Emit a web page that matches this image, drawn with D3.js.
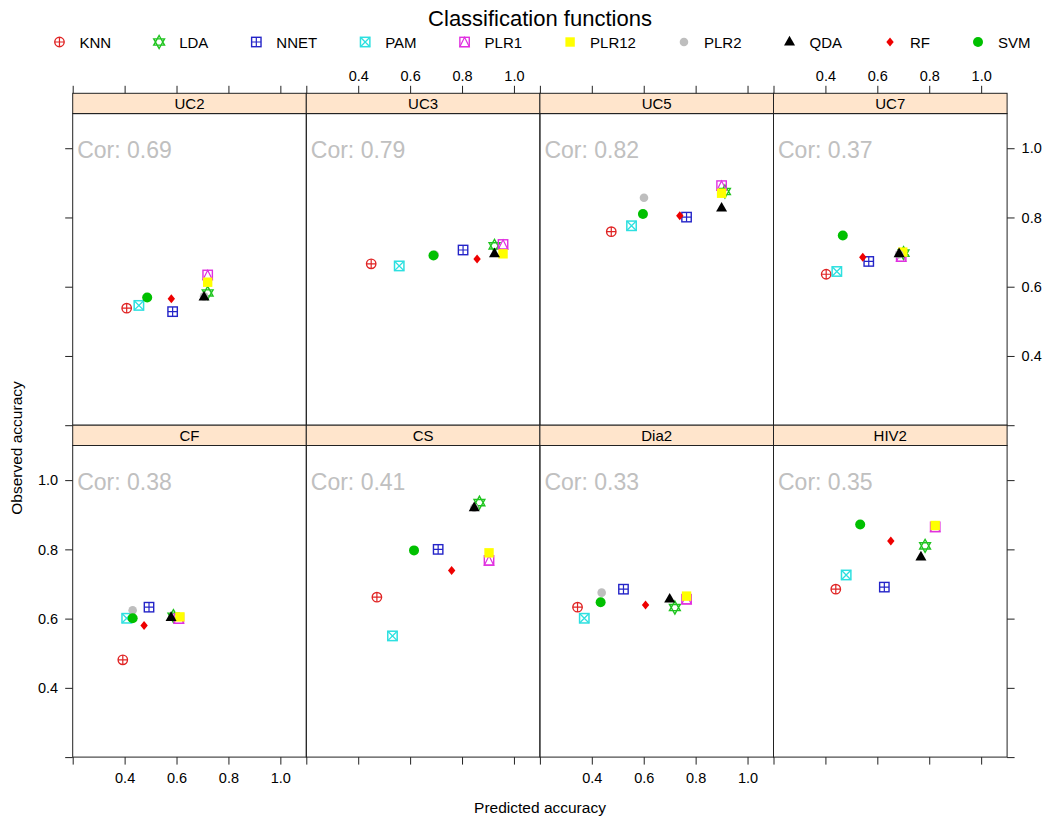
<!DOCTYPE html>
<html>
<head>
<meta charset="utf-8">
<script src="https://cdn.jsdelivr.net/npm/d3@7"></script>
<style>
body { margin: 0; background: #fff; }
svg text { font-family: "Liberation Sans", Arial, Helvetica, sans-serif; }
</style>
</head>
<body>
<svg id="chart"></svg>
<script>
// classification methods, in legend order
var methods = ["KNN", "LDA", "NNET", "PAM", "PLR1", "PLR12", "PLR2", "QDA", "RF", "SVM"];
var panels = ["UC2", "UC3", "UC5", "UC7", "CF", "CS", "Dia2", "HIV2"];
var cors = ["0.69", "0.79", "0.82", "0.37", "0.38", "0.41", "0.33", "0.35"];

// predicted / observed accuracy per data set, same order as methods
var uc2Pred  = [0.408, 0.720, 0.585, 0.455, 0.720, 0.720, 0.706, 0.706, 0.580, 0.487];
var uc2Obs   = [0.538, 0.582, 0.528, 0.546, 0.634, 0.613, 0.572, 0.570, 0.565, 0.569];
var uc3Pred  = [0.450, 0.925, 0.804, 0.558, 0.958, 0.958, 0.695, 0.925, 0.858, 0.690];
var uc3Obs   = [0.666, 0.718, 0.706, 0.660, 0.722, 0.695, 0.692, 0.695, 0.680, 0.690];
var uc5Pred  = [0.475, 0.913, 0.765, 0.553, 0.900, 0.900, 0.601, 0.900, 0.739, 0.597];
var uc5Obs   = [0.759, 0.875, 0.801, 0.776, 0.892, 0.870, 0.857, 0.827, 0.805, 0.810];
var uc7Pred  = [0.403, 0.701, 0.567, 0.444, 0.692, 0.698, 0.684, 0.684, 0.544, 0.467];
var uc7Obs   = [0.636, 0.697, 0.673, 0.644, 0.687, 0.700, 0.694, 0.695, 0.685, 0.748];
var cfPred   = [0.393, 0.588, 0.494, 0.408, 0.609, 0.613, 0.431, 0.579, 0.475, 0.431];
var cfObs    = [0.481, 0.607, 0.633, 0.601, 0.600, 0.605, 0.624, 0.603, 0.580, 0.601];
var csPred   = [0.472, 0.867, 0.708, 0.532, 0.904, 0.904, 0.847, 0.847, 0.760, 0.615];
var csObs    = [0.662, 0.935, 0.800, 0.550, 0.768, 0.790, 0.920, 0.920, 0.739, 0.797];
var dia2Pred = [0.345, 0.720, 0.522, 0.371, 0.765, 0.765, 0.438, 0.700, 0.607, 0.434];
var dia2Obs  = [0.633, 0.632, 0.685, 0.601, 0.656, 0.665, 0.675, 0.656, 0.639, 0.647];
var hiv2Pred = [0.440, 0.784, 0.627, 0.480, 0.823, 0.823, 0.534, 0.768, 0.652, 0.534];
var hiv2Obs  = [0.685, 0.810, 0.691, 0.726, 0.865, 0.869, 0.872, 0.778, 0.824, 0.872];

var tickValues = [0.2, 0.4, 0.6, 0.8, 1.0];
var tickLabels = ["", "0.4", "0.6", "0.8", "1.0"];

var predAll = [uc2Pred, uc3Pred, uc5Pred, uc7Pred, cfPred, csPred, dia2Pred, hiv2Pred];
var obsAll  = [uc2Obs, uc3Obs, uc5Obs, uc7Obs, cfObs, csObs, dia2Obs, hiv2Obs];

// symbol styles (lattice pch 10..19 with the R palette)
var shapes = ["circlePlus", "star", "squarePlus", "squareX", "squareTri", "square", "dot", "triangle", "diamond", "bigDot"];
var colors = ["#e02424", "#1fc41f", "#2424c8", "#2ee0e0", "#e030e0", "#ffff00", "#bebebe", "#000000", "#ee0000", "#00c000"];

var W = 1050, H = 820;
var left = 72.7, panelW = 233.6, top0 = 93.3, stripH = 20.3, plotH = 311.6;
var border = "#222";

var svg = d3.select("#chart").attr("width", W).attr("height", H);

function drawSymbol(g, k) {
    var c = colors[k], r = 4.7;
    switch (shapes[k]) {
        case "circlePlus":
            g.append("circle").attr("r", r).attr("fill", "none").attr("stroke", c).attr("stroke-width", 1.4);
            g.append("path").attr("d", "M" + (-r) + ",0H" + r + "M0," + (-r) + "V" + r)
                .attr("stroke", c).attr("stroke-width", 1.2);
            break;
        case "star":
            g.append("path")
                .attr("d", "M0,-6.5L5.4,3.1L-5.4,3.1ZM0,6.5L5.4,-3.1L-5.4,-3.1Z")
                .attr("fill", "none").attr("stroke", c).attr("stroke-width", 1.4);
            break;
        case "squarePlus":
            g.append("rect").attr("x", -r).attr("y", -r).attr("width", 2 * r).attr("height", 2 * r)
                .attr("fill", "none").attr("stroke", c).attr("stroke-width", 1.4);
            g.append("path").attr("d", "M" + (-r) + ",0H" + r + "M0," + (-r) + "V" + r)
                .attr("stroke", c).attr("stroke-width", 1.2);
            break;
        case "squareX":
            g.append("rect").attr("x", -r).attr("y", -r).attr("width", 2 * r).attr("height", 2 * r)
                .attr("fill", "none").attr("stroke", c).attr("stroke-width", 1.5);
            g.append("path").attr("d", "M" + (-r) + "," + (-r) + "L" + r + "," + r + "M" + r + "," + (-r) + "L" + (-r) + "," + r)
                .attr("stroke", c).attr("stroke-width", 1.3);
            break;
        case "squareTri":
            g.append("rect").attr("x", -r).attr("y", -r).attr("width", 2 * r).attr("height", 2 * r)
                .attr("fill", "none").attr("stroke", c).attr("stroke-width", 1.4);
            g.append("path").attr("d", "M0," + (-r) + "L" + r + "," + r + "L" + (-r) + "," + r + "Z")
                .attr("fill", "none").attr("stroke", c).attr("stroke-width", 1.2);
            break;
        case "square":
            g.append("rect").attr("x", -r).attr("y", -r).attr("width", 2 * r).attr("height", 2 * r)
                .attr("fill", c);
            break;
        case "dot":
            g.append("circle").attr("r", 4.3).attr("fill", c);
            break;
        case "triangle":
            g.append("path").attr("d", "M0,-6.2L5.5,3.4L-5.5,3.4Z").attr("fill", c);
            break;
        case "diamond":
            g.append("path").attr("d", "M0,-4.5L3.7,0L0,4.5L-3.7,0Z").attr("fill", c);
            break;
        case "bigDot":
            g.append("circle").attr("r", 5).attr("fill", c);
            break;
    }
}

// title and key
svg.append("text")
    .attr("x", 540).attr("y", 26)
    .attr("text-anchor", "middle")
    .style("font-size", "22px")
    .text("Classification functions");

var key = svg.append("g").attr("class", "key");
var items = key.selectAll("g").data(methods).enter().append("g");
items.each(function(d, i) {
    var g = d3.select(this);
    drawSymbol(g.append("g").attr("transform", "translate(0,42)"), i);
    g.append("text").attr("x", 20).attr("y", 47.5).style("font-size", "15px").text(d);
});
var kx = 0, gap = 48;
items.each(function(d, i) {
    var len = d3.select(this).select("text").node().getComputedTextLength();
    d3.select(this).attr("transform", "translate(" + kx + ",0)");
    kx += 20 + len + gap;
});
var keyW = kx - gap + 6;
key.attr("transform", "translate(" + (542 - keyW / 2 + 6) + ",0)");

// panels
var x = d3.scaleLinear().domain([0.2, 1.1]);
var fmt = function(v) { return tickLabels[tickValues.indexOf(v)]; };
var noLab = function() { return ""; };

panels.forEach(function(name, p) {
    var col = p % 4, row = Math.floor(p / 4);
    var x0 = left + col * panelW;
    var stripTop = top0 + row * (stripH + plotH);
    var plotTop = stripTop + stripH;
    var plotBottom = plotTop + plotH;

    var xs = x.copy().range([x0, x0 + panelW]);
    var ys = d3.scaleLinear().domain([0.2, 1.1]).range([plotBottom, plotTop]);

    var g = svg.append("g").attr("class", "panel");

    // strip
    g.append("rect")
        .attr("x", x0).attr("y", stripTop)
        .attr("width", panelW).attr("height", stripH)
        .attr("fill", "#ffe5cc").attr("stroke", border).attr("stroke-width", 1);
    g.append("text")
        .attr("x", x0 + panelW / 2).attr("y", stripTop + 15.5)
        .attr("text-anchor", "middle")
        .style("font-size", "15px")
        .text(name);

    g.append("rect")
        .attr("x", x0).attr("y", plotTop)
        .attr("width", panelW).attr("height", plotH)
        .attr("fill", "none").attr("stroke", border).attr("stroke-width", 1);

    // correlation label
    g.append("text")
        .attr("x", x0 + 4.5).attr("y", plotTop + 44)
        .attr("fill", "#c0c0c0")
        .style("font-size", "23px")
        .text("Cor: " + cors[p]);

    // axes
    if (row === 0) {
        g.append("g").attr("transform", "translate(0," + stripTop + ")")
            .call(d3.axisTop(xs).tickValues(tickValues).tickSize(7.5).tickSizeOuter(0).tickPadding(5)
                .tickFormat(col % 2 === 1 ? fmt : noLab));
    } else {
        g.append("g").attr("transform", "translate(0," + plotBottom + ")")
            .call(d3.axisBottom(xs).tickValues(tickValues).tickSize(7.5).tickSizeOuter(0).tickPadding(8)
                .tickFormat(col % 2 === 0 ? fmt : noLab));
    }
    if (col === 0) {
        g.append("g").attr("transform", "translate(" + x0 + ",0)")
            .call(d3.axisLeft(ys).tickValues(tickValues).tickSize(7.5).tickSizeOuter(0).tickPadding(7)
                .tickFormat(row === 1 ? fmt : noLab));
    }
    if (col === 3) {
        g.append("g").attr("transform", "translate(" + (x0 + panelW) + ",0)")
            .call(d3.axisRight(ys).tickValues(tickValues).tickSize(7.5).tickSizeOuter(0).tickPadding(7)
                .tickFormat(row === 0 ? fmt : noLab));
    }

    // points, drawn in method order
    var pred = predAll[p], obs = obsAll[p];
    methods.forEach(function(m, k) {
        var s = g.append("g")
            .attr("transform", "translate(" + xs(pred[k]) + "," + ys(obs[k]) + ")");
        drawSymbol(s, k);
    });
});

svg.selectAll(".panel .domain").remove();
svg.selectAll(".panel .tick line").attr("stroke", border);
svg.selectAll(".panel .tick text")
    .attr("fill", "#000")
    .style("font-size", "14.5px")
    .style("font-family", "'Liberation Sans', Arial, sans-serif");

// axis titles
svg.append("text")
    .attr("x", 540).attr("y", 813)
    .attr("text-anchor", "middle")
    .style("font-size", "15.5px")
    .text("Predicted accuracy");
svg.append("text")
    .attr("transform", "translate(22,448) rotate(-90)")
    .attr("text-anchor", "middle")
    .style("font-size", "15.5px")
    .text("Observed accuracy");
</script>
</body>
</html>
